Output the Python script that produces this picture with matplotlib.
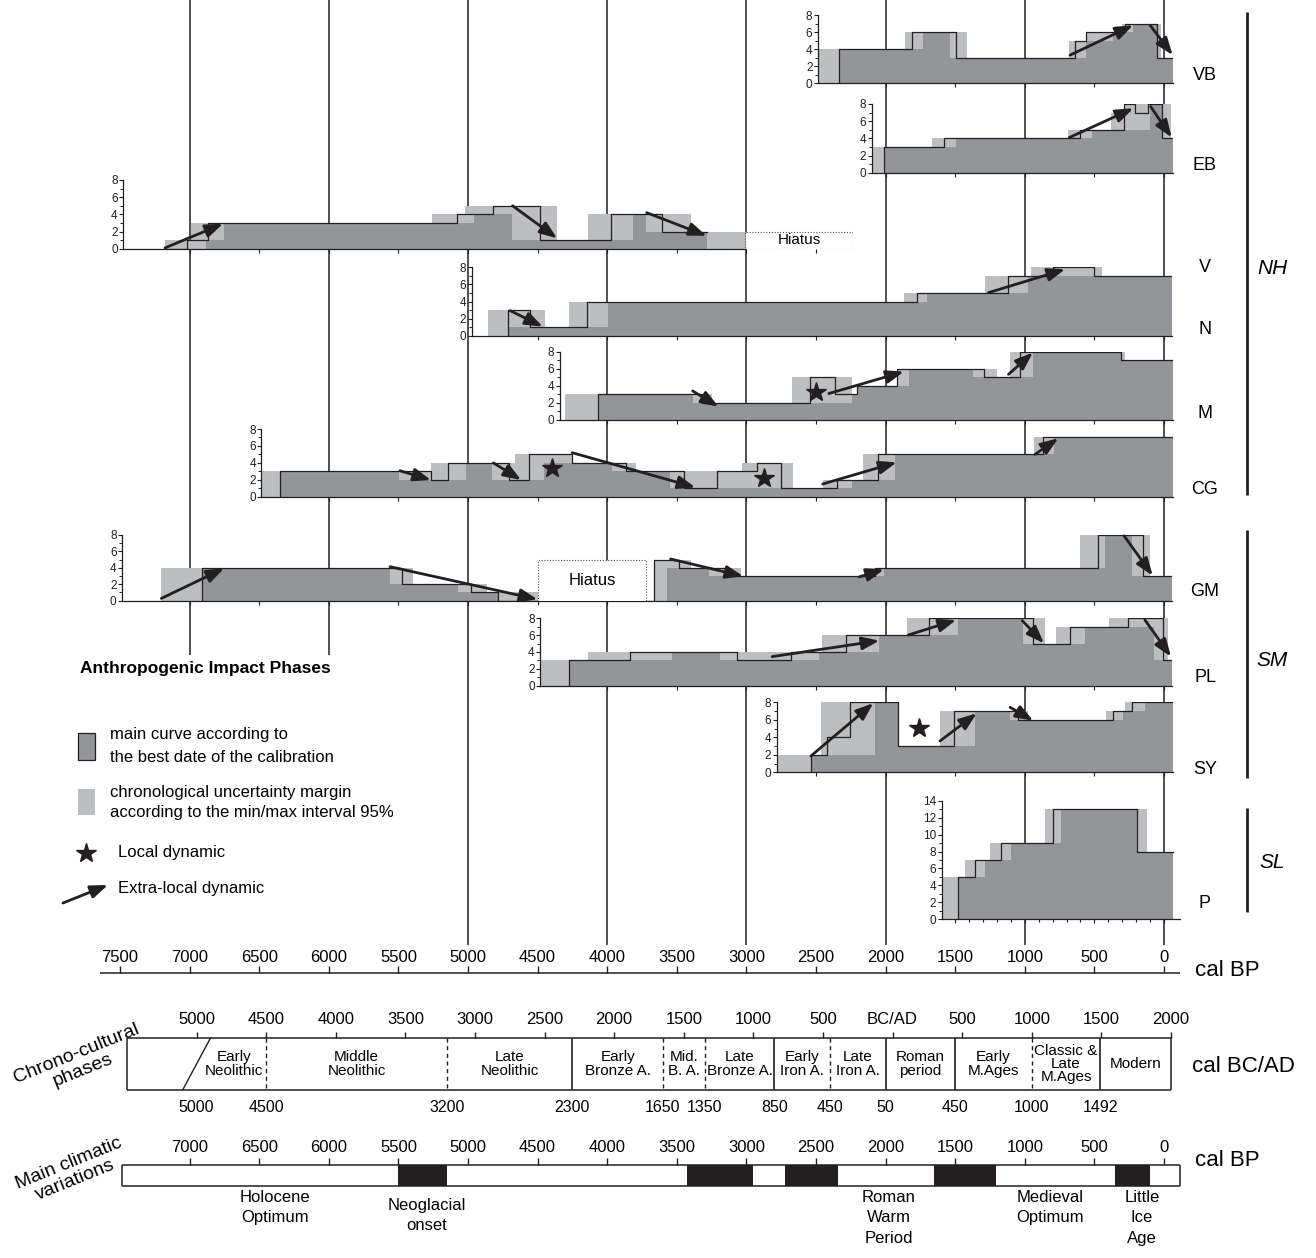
"""Anthropogenic impact phases per site, with chrono-cultural and climatic scales.

Each site panel shows the main curve (best calibrated date, dark fill + black outline)
and the chronological uncertainty margin (light grey) on a common cal BP axis.
"""

import matplotlib.pyplot as plt
import numpy as np
from matplotlib import font_manager
from matplotlib.patches import Rectangle

W, H = 1316, 1258
X0, K = 1164.0, 0.1392   # pixel of 0 cal BP, pixels per year

DARK = "#939598"
LIGHT = "#bcbec0"
INK = "#231f20"

_names = {f.name for f in font_manager.fontManager.ttflist}
SANS = "Liberation Sans" if "Liberation Sans" in _names else "DejaVu Sans"
NARROW = "Liberation Sans Narrow" if "Liberation Sans Narrow" in _names else SANS
plt.rcParams["font.family"] = [SANS, "DejaVu Sans"]

# ---- site curves: step edges in cal BP (old -> young) and values ----------
VB_BEST_X = [2333, 1813, 1494, 637, 560, 280, 53, -62]
VB_BEST = [4, 6, 3, 5, 6, 7, 3]
VB_UP_X = [2478, 1861, 1418, 685, 560, 300, 20, -62]
VB_UP = [4, 6, 3, 5, 6, 7, 3]
VB_LOW_X = [2333, 1729, 1537, 560, 364, 220, 53, -62]
VB_LOW = [4, 6, 3, 5, 6, 7, 3]
VB_ARROWS = [(675, 3.3, 222, 6.8), (100, 6.8, -62, 3.3)]

EB_BEST_X = [2011, 1578, 603, 285, 208, 113, 17, -62]
EB_BEST = [3, 4, 5, 8, 7, 8, 4]
EB_UP_X = [2090, 1665, 688, 381, 285, -48, -62]
EB_UP = [3, 4, 5, 7, 8, 4]
EB_LOW_X = [2011, 1494, 520, 100, 17, -62]
EB_LOW = [3, 4, 5, 8, 4]
EB_ARROWS = [(680, 4.1, 220, 7.5), (96, 7.7, -55, 4.1)]

V_BEST_X = [7176, 7016, 6870, 5077, 4818, 4483, 3975, 3609, 3286]
V_BEST = [0, 1, 3, 4, 5, 1, 4, 2]
V_UP_X = [7176, 6990, 5257, 5022, 4363, 4136, 3400, 3010]
V_UP = [1, 3, 4, 5, 1, 4, 2]
V_LOW_X = [6882, 6753, 4957, 4686, 3813, 3721, 3286]
V_LOW = [1, 3, 4, 1, 4, 2]
V_ARROWS = [(7176, 0.1, 6760, 2.9), (4680, 5.0, 4359, 1.2), (3717, 4.2, 3286, 1.5)]
V_HIATUS = (3010, 2232, 2.0)

N_BEST_X = [4714, 4557, 4146, 1771, 1120, 796, 500, -57]
N_BEST = [3, 1, 4, 5, 7, 8, 7]
N_UP_X = [4853, 4446, 4278, 1865, 1284, 953, 448, -57]
N_UP = [3, 1, 4, 5, 7, 8, 7]
N_LOW_X = [4714, 3993, 1701, 977, -57]
N_LOW = [1, 4, 5, 7]
N_ARROWS = [(4697, 2.95, 4463, 1.09), (1260, 5.05, 710, 7.77)]

M_BEST_X = [4066, 3318, 2545, 2361, 2203, 1916, 1293, 1034, 312, -62]
M_BEST = [3, 2, 5, 3, 4, 6, 5, 8, 7]
M_UP_X = [4300, 3249, 2670, 2243, 2203, 1916, 1200, 1106, 280, -62]
M_UP = [3, 2, 5, 3, 4, 6, 5, 8, 7]
M_LOW_X = [4066, 3386, 2243, 2203, 1830, 1372, 941, 312, -62]
M_LOW = [3, 2, 3, 4, 6, 5, 8, 7]
M_STARS = [(2500, 3.3)]
M_ARROWS = [(3386, 3.4, 3200, 1.56), (2408, 3.1, 1869, 5.66), (1117, 5.35, 942, 7.9)]

CG_BEST_X = [6348, 5265, 5142, 4708, 4560, 4252, 3867, 3449, 3208, 2923, 2751,
             2352, 2058, 867, -62]
CG_BEST = [3, 2, 4, 2, 5, 4, 3, 1, 3, 4, 1, 2, 5, 7]
CG_UP_X = [6480, 5265, 4662, 4252, 3791, 3033, 2668, 2448, 2160, 934, -62]
CG_UP = [3, 4, 5, 4, 3, 4, 1, 2, 5, 7]
CG_LOW_X = [6348, 5493, 5016, 4828, 4457, 3963, 3547, 2244, 1932, 790, -62]
CG_LOW = [3, 2, 4, 2, 4, 3, 1, 2, 5, 7]
CG_STARS = [(4400, 3.35), (2871, 2.17)]
CG_ARROWS = [(5489, 3.07, 5266, 1.97), (4818, 4.0, 4618, 1.97), (4252, 5.2, 3366, 1.1),
             (2452, 1.5, 1920, 4.06), (927, 5.0, 759, 6.9)]

GM_BEST_X = [6913, 5476, 4975, 4783, 3664, 3487, 3134, 2076, 473, 152, -57]
GM_BEST = [4, 2, 1, 0, 5, 4, 3, 4, 8, 3]
GM_UP_X = [7203, 5398, 4860, 4500, 3664, 3398, 3039, 2141, 601, 104, -57]
GM_UP = [4, 2, 1, 0, 5, 4, 3, 4, 8, 3]
GM_LOW_X = [6913, 5560, 5072, 4783, 3568, 3269, 2012, 424, 232, -57]
GM_LOW = [4, 2, 1, 0, 4, 3, 4, 8, 3]
GM_ARROWS = [(7203, 0.28, 6752, 3.94), (5560, 4.14, 4500, 0.16), (3545, 5.08, 3022, 2.97),
             (2189, 2.9, 2012, 3.8), (287, 7.9, 81, 3.05)]
GM_HIATUS = (4494, 3720, 4.9)

PL_BEST_X = [4273, 3834, 3064, 2680, 2284, 1685, 944, 672, 259, 7, -57]
PL_BEST = [3, 4, 3, 4, 6, 8, 5, 7, 8, 3]
PL_UP_X = [4476, 4137, 2455, 1846, 858, 777, 392, -31, -57]
PL_UP = [3, 4, 6, 8, 5, 7, 8, 3]
PL_LOW_X = [4273, 3537, 3190, 2477, 2050, 1483, 1012, 569, 72, -57]
PL_LOW = [3, 4, 3, 4, 6, 8, 5, 7, 3]
PL_ARROWS = [(2815, 3.45, 2044, 5.35), (1836, 6.02, 1493, 7.8), (1018, 7.72, 863, 5.03),
             (137, 7.8, -50, 3.45)]

SY_BEST_X = [2536, 2419, 2256, 1913, 1506, 1046, 369, 228, -62]
SY_BEST = [2, 4, 8, 3, 7, 6, 7, 8]
SY_UP_X = [2778, 2464, 1913, 1609, 975, 417, 280, -62]
SY_UP = [2, 8, 3, 7, 6, 7, 8]
SY_LOW_X = [2536, 2076, 1913, 1358, 1106, 292, 137, -62]
SY_LOW = [2, 8, 3, 7, 6, 7, 8]
SY_STARS = [(1758, 5.03)]
SY_ARROWS = [(2536, 1.87, 2088, 7.9), (1609, 3.58, 1346, 6.74), (1106, 7.43, 939, 5.9)]

P_BEST_X = [1478, 1358, 1173, 800, 196, -62]
P_BEST = [5, 7, 9, 13, 8]
P_UP_X = [1586, 1430, 1250, 855, 124, -62]
P_UP = [5, 7, 9, 13, 8]
P_LOW_X = [1478, 1286, 1102, 740, 196, -62]
P_LOW = [5, 7, 9, 13, 8]

# ---- scales ---------------------------------------------------------------
GRID_BP = [7000, 6000, 5000, 4000, 3000, 2000, 1000, 0]
MAIN_TICKS = list(range(7500, -1, -500))

CHRONO_TICKS_AD = list(range(-5000, 2001, 500))
CHRONO_BOUNDS_AD = [-4500, -3200, -2300, -1650, -1350, -850, -450, -50, 450, 1000, 1492]
CHRONO_DASHED = [True, True, False, True, True, False, True, False, False, True, False]
CHRONO_LOW_AD = [-5000, -4500, -3200, -2300, -1650, -1350, -850, -450, -50, 450, 1000, 1492]
CHRONO_PHASES = ["Early\nNeolithic", "Middle\nNeolithic", "Late\nNeolithic",
                 "Early\nBronze A.", "Mid.\nB. A.", "Late\nBronze A.", "Early\nIron A.",
                 "Late\nIron A.", "Roman\nperiod", "Early\nM.Ages",
                 "Classic &\nLate\nM.Ages", "Modern"]
CHRONO_EDGES_AD = [-5000] + CHRONO_BOUNDS_AD + [2000]

CLIM_TICKS = list(range(7000, -1, -500))
CLIM_COLD = [(5500, 5150), (3430, 2950), (2720, 2340), (1650, 1210), (350, 100)]
CLIM_NAMES = ["Holocene\nOptimum", "Neoglacial\nonset", "Roman\nWarm\nPeriod",
              "Medieval\nOptimum", "Little\nIce\nAge"]
CLIM_NAME_BP = [6387, 5295, 1976, 819, 158]


def bp(x):
    return (X0 - x) / K


# name: curves, arrows, stars, hiatus
PANELS = [
    ("VB", VB_BEST_X, VB_BEST, VB_UP_X, VB_UP, VB_LOW_X, VB_LOW, VB_ARROWS, [], None),
    ("EB", EB_BEST_X, EB_BEST, EB_UP_X, EB_UP, EB_LOW_X, EB_LOW, EB_ARROWS, [], None),
    ("V", V_BEST_X, V_BEST, V_UP_X, V_UP, V_LOW_X, V_LOW, V_ARROWS, [], V_HIATUS),
    ("N", N_BEST_X, N_BEST, N_UP_X, N_UP, N_LOW_X, N_LOW, N_ARROWS, [], None),
    ("M", M_BEST_X, M_BEST, M_UP_X, M_UP, M_LOW_X, M_LOW, M_ARROWS, M_STARS, None),
    ("CG", CG_BEST_X, CG_BEST, CG_UP_X, CG_UP, CG_LOW_X, CG_LOW, CG_ARROWS, CG_STARS, None),
    ("GM", GM_BEST_X, GM_BEST, GM_UP_X, GM_UP, GM_LOW_X, GM_LOW, GM_ARROWS, [], GM_HIATUS),
    ("PL", PL_BEST_X, PL_BEST, PL_UP_X, PL_UP, PL_LOW_X, PL_LOW, PL_ARROWS, [], None),
    ("SY", SY_BEST_X, SY_BEST, SY_UP_X, SY_UP, SY_LOW_X, SY_LOW, SY_ARROWS, SY_STARS, None),
    ("P", P_BEST_X, P_BEST, P_UP_X, P_UP, P_LOW_X, P_LOW, [], [], None),
]

# panel geometry in pixels: left, right, baseline y, top y, ymax, label y
GEOM = {
    "VB": (818, 1173, 83.3, 15, 8, 76),
    "EB": (871.7, 1173, 172.7, 104, 8, 166),
    "V": (123.3, 853, 248.7, 180, 8, 268),
    "N": (471.5, 1172, 336, 267.3, 8, 330),
    "M": (559.9, 1172.6, 420, 351.7, 8, 413),
    "CG": (261.4, 1172.7, 496.7, 429, 8, 490),
    "GM": (122.1, 1172, 600.7, 535, 8, 592),
    "PL": (540.2, 1172, 685.7, 618.3, 8, 678),
    "SY": (776.7, 1172.7, 772.3, 702.3, 8, 770),
    "P": (941.7, 1180, 919.3, 800.7, 14, 903),
}

ARROW = dict(arrowstyle="-|>,head_length=0.75,head_width=0.28", color=INK, lw=2.0,
             mutation_scale=14, shrinkA=0, shrinkB=0)


def fill_steps(ax, edges, vals, color):
    ax.fill_between(edges, 0, list(vals) + [vals[-1]], step="post", color=color, lw=0)


def outline(ax, edges, vals):
    xo = [edges[0]] + list(edges)
    yo = [0] + list(vals) + [vals[-1]]
    ax.step(xo, yo, where="post", color=INK, lw=0.9)


fig = plt.figure(figsize=(W / 100, H / 100), dpi=100)

# background axes: cal BP horizontally, pixels vertically
bg = fig.add_axes([0, 0, 1, 1])
bg.set_xlim(bp(0), bp(W))
bg.set_ylim(H, 0)
bg.axis("off")
# plain pixel axes for legend and labels
lay = fig.add_axes([0, 0, 1, 1])
lay.set_xlim(0, W)
lay.set_ylim(H, 0)
lay.axis("off")

# vertical millennium lines
for g in GRID_BP:
    bg.vlines(g, 0, 655 if g >= 6000 else 945, color=INK, lw=1.1)

# main cal BP axis
bg.hlines(973, bp(100), bp(1180), color=INK, lw=1.1)
bg.vlines(MAIN_TICKS, 966, 973, color=INK, lw=1)
for t in MAIN_TICKS:
    bg.text(t, 957, str(t), ha="center", va="center", size=12, family=NARROW)
lay.text(1195, 970, "cal BP", ha="left", va="center", size=16)

# chrono-cultural phases
c_left, c_right = 1950 + 5500, 1950 - 2000
bg.hlines([1038, 1090], c_left, c_right, color=INK, lw=1.1)
bg.vlines([c_left, c_right], 1038, 1090, color=INK, lw=1.1)
bg.vlines([1950 - t for t in CHRONO_TICKS_AD], 1032, 1038, color=INK, lw=1)
for t in CHRONO_TICKS_AD:
    bg.text(1950 - t, 1020, "BC/AD" if t == 0 else str(abs(t)), ha="center", va="center",
            size=12, family=NARROW)
for a, dashed in zip(CHRONO_BOUNDS_AD, CHRONO_DASHED):
    bg.vlines(1950 - a, 1038, 1090, color=INK, lw=1.0 if dashed else 1.2,
              linestyles=(0, (3, 2.5)) if dashed else "solid")
bg.plot([1950 + 4900, 1950 + 5100], [1038, 1090], color=INK, lw=1)
for a in CHRONO_LOW_AD:
    bg.text(1950 - a, 1107, str(abs(a)), ha="center", va="center", size=11.5, family=NARROW)
for i, name in enumerate(CHRONO_PHASES):
    mid = 1950 - (CHRONO_EDGES_AD[i] + CHRONO_EDGES_AD[i + 1]) / 2
    if i == 0:
        mid -= 20
    bg.text(mid, 1064, name, ha="center", va="center", size=11, family=NARROW,
            linespacing=0.95)
lay.text(1192, 1066, "cal BC/AD", ha="left", va="center", size=16)
lay.text(80, 1062, "Chrono-cultural\nphases", ha="center", va="center", size=14,
         rotation=22, linespacing=1.0)

# main climatic variations
bg.hlines([1165, 1186], 7486, -115, color=INK, lw=1.1)
bg.vlines([7486, -115], 1165, 1186, color=INK, lw=1.1)
for a, b in CLIM_COLD:
    bg.add_patch(Rectangle((a, 1165), b - a, 21, color=INK, lw=0))
bg.vlines(CLIM_TICKS, 1158, 1165, color=INK, lw=1)
for t in CLIM_TICKS:
    bg.text(t, 1148, str(t), ha="center", va="center", size=12, family=NARROW)
for name, x in zip(CLIM_NAMES, CLIM_NAME_BP):
    bg.text(x, 1190 if name != "Neoglacial\nonset" else 1198, name, ha="center", va="top",
            size=12, family=NARROW, linespacing=1.45)
lay.text(1195, 1160, "cal BP", ha="left", va="center", size=16)
lay.text(72, 1172, "Main climatic\nvariations", ha="center", va="center", size=14,
         rotation=22, linespacing=1.0)

# legend
lay.text(80, 668, "Anthropogenic Impact Phases", ha="left", va="center", size=12.5,
         weight="bold")
lay.add_patch(Rectangle((78, 733), 17, 27, fc=DARK, ec=INK, lw=0.9))
lay.text(110, 735, "main curve according to", va="center", size=12)
lay.text(110, 757, "the best date of the calibration", va="center", size=12)
lay.add_patch(Rectangle((78, 789), 17, 26, fc=LIGHT, ec="none"))
lay.text(110, 792, "chronological uncertainty margin", va="center", size=12)
lay.text(110, 813, "according to the min/max interval 95%", va="center", size=12)
lay.plot(86, 853, marker="*", ms=15, color=INK)
lay.text(118, 852, "Local dynamic", va="center", size=12)
lay.annotate("", xy=(108, 885), xytext=(63, 903), arrowprops=ARROW)
lay.text(118, 888, "Extra-local dynamic", va="center", size=12)

# site groups
for y0, y1, lab, ly in [(12, 495, "NH", 268), (530, 778, "SM", 660), (808, 912, "SL", 862)]:
    lay.vlines(1247, y0, y1, color=INK, lw=2)
    lay.text(1272, ly, lab, ha="center", va="center", size=15, style="italic")

# site panels
for (name, bx, bv, ux, uv, lx, lv, arrows, stars, hiatus) in PANELS:
    left, right, base, top, ymax, label_y = GEOM[name]
    ax = fig.add_axes([left / W, 1 - base / H, (right - left) / W, (base - top) / H])
    ax.set_xlim(bp(left), bp(right))
    ax.set_ylim(0, ymax)
    ax.patch.set_alpha(0)
    for s in ("top", "right"):
        ax.spines[s].set_visible(False)
    for s in ("left", "bottom"):
        ax.spines[s].set_color(INK)
        ax.spines[s].set_linewidth(0.9)

    fill_steps(ax, ux, uv, LIGHT)
    fill_steps(ax, lx, lv, DARK)
    outline(ax, bx, bv)

    for x0, y0, x1, y1 in arrows:
        ax.annotate("", xy=(x1, y1), xytext=(x0, y0), arrowprops=ARROW,
                    annotation_clip=False)
    for sx, sy in stars:
        ax.plot(sx, sy, marker="*", ms=15, color=INK, clip_on=False)

    if hiatus is not None:
        h0, h1, hh = hiatus
        ax.add_patch(Rectangle((h0, 0), h1 - h0, hh, fc="white", ec="#555555", lw=0.8,
                               ls=(0, (1, 1.5)), zorder=3))
        ax.text((h0 + h1) / 2, hh / 2, "Hiatus", ha="center", va="center",
                size=12 if hh > 3 else 11, zorder=4)
        if name == "V":
            ax.spines["bottom"].set_bounds(bp(left), h0)

    ax.set_yticks(np.arange(0, ymax + 1, 2))
    ax.set_yticks(np.arange(0, ymax + 1, 1), minor=True)
    lo, hi = sorted(ax.get_xlim())
    ax.set_xticks([t for t in range(0, 8000, 500) if lo <= t <= hi])
    if name == "P":
        ax.set_xticks([t for t in range(0, 8000, 100) if lo <= t <= hi], minor=True)
    ax.tick_params(axis="y", which="major", length=3, width=0.8, labelsize=8.5, pad=1,
                   colors=INK)
    ax.tick_params(axis="y", which="minor", length=2, width=0.6)
    ax.tick_params(axis="x", which="both", length=3, width=0.8, labelbottom=False,
                   colors=INK)
    ax.tick_params(axis="x", which="minor", length=2)

    lay.text(1205, label_y, name, ha="center", va="center", size=13)

fig.savefig("out.png", dpi=100, facecolor="white")
